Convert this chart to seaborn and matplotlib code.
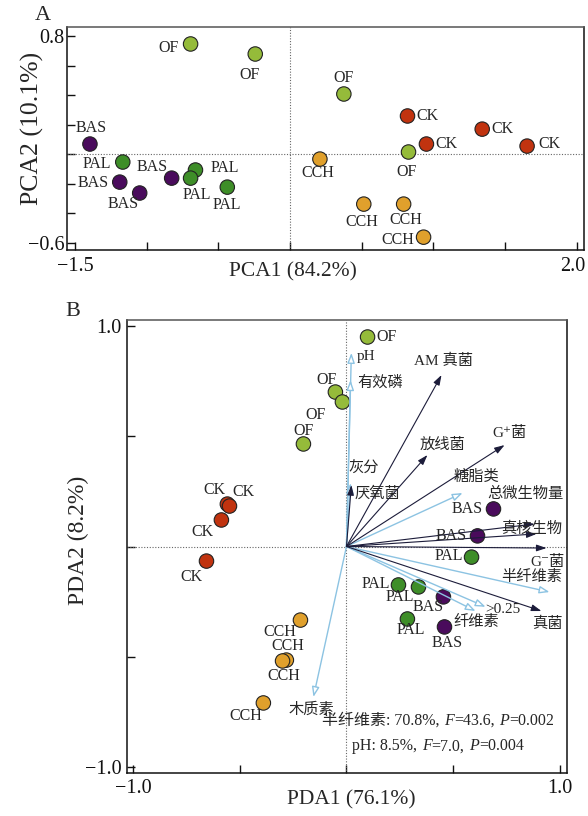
import numpy as np
import pandas as pd
import matplotlib
matplotlib.use("Agg")
import matplotlib.pyplot as plt
import matplotlib.transforms as mtransforms
import seaborn as sns
from matplotlib.offsetbox import TextArea, HPacker, VPacker, AnnotationBbox, DrawingArea

# ---------------- data: panel A (PCA) ----------------
pca_group = ["BAS"] * 4 + ["PAL"] * 4 + ["OF"] * 4 + ["CK"] * 4 + ["CCH"] * 4
pca1 = [-1.396, -1.188, -1.049, -0.826,
        -1.167, -0.660, -0.694, -0.438,
        -0.694, -0.243, 0.375, 0.826,
        0.819, 1.340, 0.951, 1.653,
        0.208, 0.514, 0.792, 0.931]
pca2 = [0.068, -0.190, -0.264, -0.163,
        -0.054, -0.108, -0.163, -0.224,
        0.746, 0.678, 0.407, 0.014,
        0.258, 0.169, 0.068, 0.054,
        -0.034, -0.339, -0.339, -0.563]

# ---------------- data: panel B (PDA) ----------------
pda_group = ["OF"] * 4 + ["CK"] * 4 + ["CCH"] * 4 + ["BAS"] * 4 + ["PAL"] * 4
pda1 = [0.099, -0.052, -0.019, -0.202,
        -0.559, -0.549, -0.587, -0.657,
        -0.216, -0.282, -0.300, -0.390,
        0.690, 0.615, 0.455, 0.460,
        0.587, 0.244, 0.338, 0.286]
pda2 = [0.948, 0.699, 0.654, 0.464,
        0.192, 0.183, 0.120, -0.066,
        -0.333, -0.514, -0.518, -0.708,
        0.170, 0.048, -0.228, -0.364,
        -0.048, -0.174, -0.183, -0.328]

# response (microbial) vectors
species_names = ["AM 真菌", "放线菌", "G⁺菌", "厌氧菌", "总微生物量", "真核生物", "G⁻菌", "真菌"]
species_x = [0.446, 0.380, 0.742, 0.023, 0.883, 0.892, 0.939, 0.915]
species_y = [0.776, 0.414, 0.459, 0.278, 0.102, 0.057, -0.007, -0.292]

# explanatory (environmental) vectors
env_names = ["pH", "有效磷", "灰分", "糖脂类", "半纤维素", ">0.25", "纤维素", "木质素"]
env_x = [0.023, 0.019, 0.019, 0.545, 0.953, 0.653, 0.606, -0.155]
env_y = [0.876, 0.753, 0.287, 0.242, -0.206, -0.273, -0.292, -0.681]

stat_lines = [
    [("半纤维素: 70.8%,", False), ("F", True), ("=43.6,", False), ("P", True), ("=0.002", False)],
    [("pH: 8.5%,", False), ("F", True), ("=7.0,", False), ("P", True), ("=0.004", False)],
]

# ---------------- styles / label placement (pixel offsets) ----------------
palette = {"CK": "#c1330f", "CCH": "#e0a02c", "OF": "#95bb3a",
           "PAL": "#3e8e28", "BAS": "#4a0b5c"}
pca_label_off = [(1, 16), (-27, -1), (-17, -11), (-20, 11),
                 (-26, -2), (29, 2), (6, -17), (0, -18),
                 (-22, -4), (-6, -21), (0, 16), (-2, -20),
                 (20, 0), (20, 0), (20, 0), (22, 2),
                 (-2, -14), (-2, -18), (2, -16), (-26, -3)]
pda_label_off = [(19, 0), (-9, 12), (-27, -13), (0, 13),
                 (-13, 14), (14, 14), (-19, -12), (-15, -16),
                 (-21, -12), (1, 14), (1, -15), (-18, -13),
                 (-26, 0), (-26, 0), (-15, -10), (3, -16),
                 (-23, 1), (-23, 1), (-19, -10), (3, -11)]
species_label_off = [(2, 14), (15, 10), (5, 12), (26, -8), (-9, 30), (-5, 5), (1, -14), (6, -13)]
env_label_off = [(15, -4), (30, -2), (13, 14), (14, 16), (-18, 15), (17, -3), (1, -11), (-2, -13)]

sns.set_theme(style="white")
FAM = ["Liberation Serif", "Noto Sans CJK SC", "DejaVu Serif"]
plt.rcParams["font.family"] = FAM
plt.rcParams["axes.unicode_minus"] = True

DARK = "#1c1c3a"
LBLUE = "#8cc3e2"
MS = 108
TICKFS = 14.5

fig = plt.figure(figsize=(5.88, 8.16), dpi=100)
axA = fig.add_axes([67 / 588, 1 - 250 / 816, 517 / 588, 223 / 816])
axB = fig.add_axes([127 / 588, 1 - 773 / 816, 440 / 588, 453 / 816])


def style_axes(ax):
    for side, sp in ax.spines.items():
        sp.set_visible(True)
        sp.set_linewidth(1.1)
        sp.set_color("#111111")
    ax.spines["top"].set_color("#555555")
    ax.tick_params(direction="in", length=6, width=1.0, labelsize=TICKFS,
                   colors="#111111", left=True, bottom=True)
    ax.grid(False)
    ax.set_facecolor("white")


# ---------------- Panel A ----------------
dfA = pd.DataFrame({"PCA1": pca1, "PCA2": pca2, "group": pca_group})
axA.axhline(0, ls=(0, (1, 1.5)), color="#666666", lw=0.8, zorder=1)
axA.axvline(0, ls=(0, (1, 1.5)), color="#666666", lw=0.8, zorder=1)
sns.scatterplot(data=dfA, x="PCA1", y="PCA2", hue="group", palette=palette,
                s=MS, edgecolor="#222222", linewidth=0.8, legend=False, ax=axA, zorder=3)
for (x, y, g, off) in zip(pca1, pca2, pca_group, pca_label_off):
    axA.annotate(g, (x, y), xytext=off, textcoords="offset pixels",
                 ha="center", va="center", fontsize=11.5, zorder=5)
axA.set_xlim(-1.556, 2.05)
axA.set_ylim(-0.65, 0.861)
xtA = [-1.5, -1.0, -0.5, 0.0, 0.5, 1.0, 1.5, 2.0]
axA.set_xticks(xtA)
axA.set_xticklabels(["−1.5", "", "", "", "", "", "", "2.0"])
ytA = [-0.6, -0.4, -0.2, 0.0, 0.2, 0.4, 0.6, 0.8]
axA.set_yticks(ytA)
axA.set_yticklabels(["−0.6", "", "", "", "", "", "", "0.8"])
style_axes(axA)
axA.tick_params(axis="x", pad=5)
axA.tick_params(axis="y", pad=2)
# nudge the last x tick label a little to the left (as in the reference)
lastlab = axA.get_xticklabels()[-1]
lastlab.set_transform(lastlab.get_transform() +
                      mtransforms.ScaledTranslation(-4 / 100, 0, fig.dpi_scale_trans))
axA.set_xlabel("PCA1 (84.2%)", fontsize=15.5)
axA.set_ylabel("PCA2 (10.1%)", fontsize=18.5)
axA.xaxis.set_label_coords((293 - 67) / 517, -(262 - 250) / 223)
axA.yaxis.set_label_coords(-(67 - 44) / 517, (250 - 128) / 223)

# ---------------- Panel B ----------------
dfB = pd.DataFrame({"PDA1": pda1, "PDA2": pda2, "group": pda_group})
axB.axhline(0, ls=(0, (1, 1.5)), color="#666666", lw=0.8, zorder=1)
axB.axvline(0, ls=(0, (1, 1.5)), color="#666666", lw=0.8, zorder=1)
sns.scatterplot(data=dfB, x="PDA1", y="PDA2", hue="group", palette=palette,
                s=MS, edgecolor="#222222", linewidth=0.8, legend=False, ax=axB, zorder=3)

for (x, y) in zip(env_x, env_y):
    axB.annotate("", xy=(x, y), xytext=(0, 0),
                 arrowprops=dict(arrowstyle="-|>,head_length=0.6,head_width=0.22",
                                 fc="white", ec=LBLUE, lw=1.0, mutation_scale=10,
                                 shrinkA=0, shrinkB=0), zorder=4)
for (x, y) in zip(species_x, species_y):
    axB.annotate("", xy=(x, y), xytext=(0, 0),
                 arrowprops=dict(arrowstyle="-|>,head_length=0.6,head_width=0.2",
                                 fc=DARK, ec=DARK, lw=0.8, mutation_scale=10,
                                 shrinkA=0, shrinkB=0), zorder=4)
for (n, x, y, off) in zip(env_names, env_x, env_y, env_label_off):
    axB.annotate(n, (x, y), xytext=off, textcoords="offset pixels",
                 ha="center", va="center", fontsize=11, zorder=6)
for (n, x, y, off) in zip(species_names, species_x, species_y, species_label_off):
    axB.annotate(n, (x, y), xytext=off, textcoords="offset pixels",
                 ha="center", va="center", fontsize=11, zorder=6)
for (x, y, g, off) in zip(pda1, pda2, pda_group, pda_label_off):
    axB.annotate(g, (x, y), xytext=off, textcoords="offset pixels",
                 ha="center", va="center", fontsize=11.5, zorder=6)

axB.set_xlim(-1.03, 1.035)
axB.set_ylim(-1.025, 1.025)
axB.set_xticks([-1.0, -0.5, 0.0, 0.5, 1.0])
axB.set_xticklabels(["−1.0", "", "", "", "1.0"])
axB.set_yticks([-1.0, -0.5, 0.0, 0.5, 1.0])
axB.set_yticklabels(["−1.0", "", "", "", "1.0"])
style_axes(axB)
axB.tick_params(axis="x", pad=4)
axB.tick_params(axis="y", pad=4)
axB.set_xlabel("PDA1 (76.1%)", fontsize=15.5)
axB.set_ylabel("PDA2 (8.2%)", fontsize=17)
axB.xaxis.set_label_coords(0.51, -(790 - 773) / 453)
axB.yaxis.set_label_coords(-(127 - 89) / 440, (773 - 540) / 453)

# statistics text with italic F / P
rows = []
for line in stat_lines:
    parts = []
    for i, (txt, it) in enumerate(line):
        if it and i > 0:
            parts.append(DrawingArea(3.5, 1))
        parts.append(TextArea(txt, textprops=dict(fontsize=11.5, family=FAM,
                                                  style="italic" if it else "normal")))
    rows.append(HPacker(children=parts, align="baseline", pad=0, sep=0))
box = VPacker(children=rows, align="center", pad=0, sep=7)
ab = AnnotationBbox(box, ((438 - 127) / 440, (773 - 733.5) / 453), xycoords="axes fraction",
                    frameon=False, box_alignment=(0.5, 0.5), zorder=7)
axB.add_artist(ab)

fig.text(43 / 588, 1 - 15 / 816, "A", fontsize=16, ha="center", va="center")
fig.text(73 / 588, 1 - 311 / 816, "B", fontsize=16, ha="center", va="center")

fig.savefig("out.png", dpi=100)
